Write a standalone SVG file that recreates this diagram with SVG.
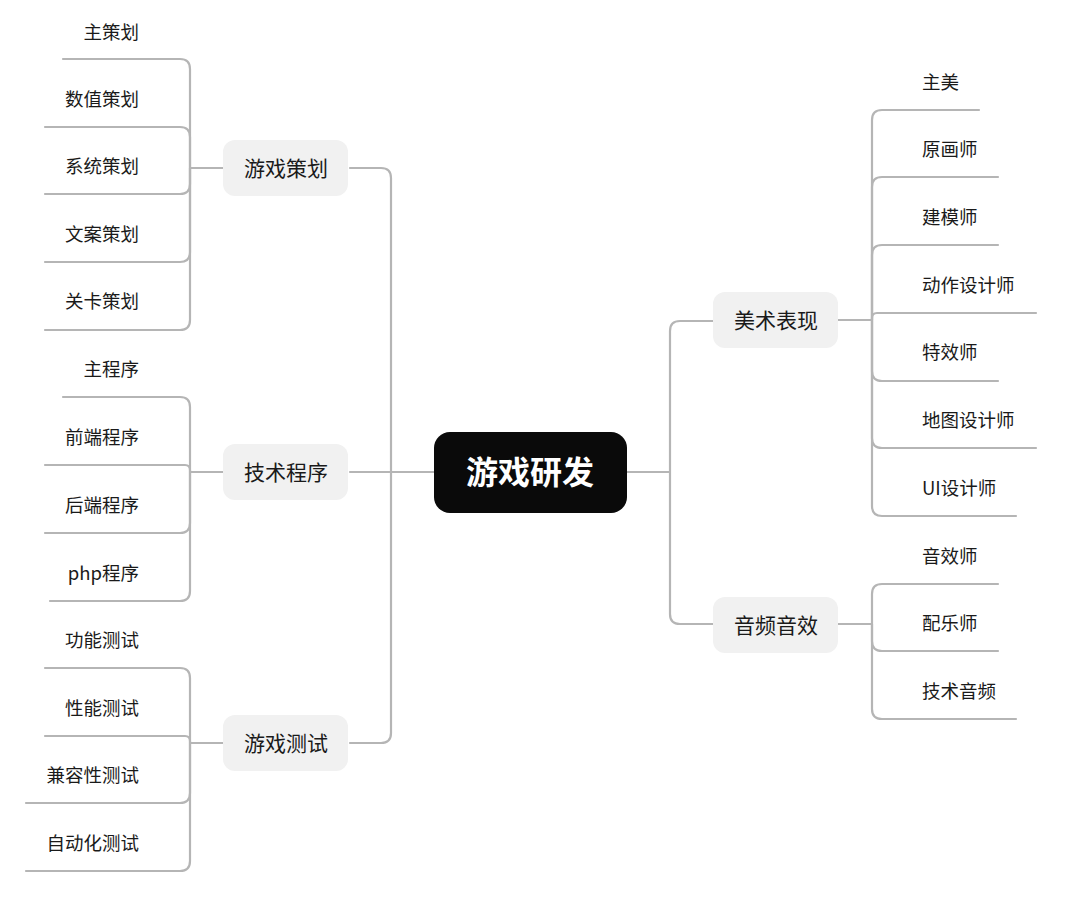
<svg xmlns="http://www.w3.org/2000/svg" width="1080" height="905" viewBox="0 0 1080 905">
<style>
.c{fill:none;stroke:#b5b5b5;stroke-width:2.2;stroke-linecap:round}
.leaf{font-family:"Noto Sans CJK SC","Noto Sans",sans-serif;font-size:18.5px;fill:#1a1a1a}
.l{text-anchor:end}
.r{text-anchor:start}
.mid rect{fill:#f1f1f1}
.mid text{font-family:"Noto Sans CJK SC","Noto Sans",sans-serif;font-size:21px;fill:#1a1a1a;text-anchor:middle}
.root text{font-family:"Noto Sans CJK SC","Noto Sans",sans-serif;font-size:32px;font-weight:bold;fill:#ffffff;text-anchor:middle}
</style>
<rect width="1080" height="905" fill="#ffffff"/>
<g id="connectors">
<path class="c" d="M434 472H350"/>
<path class="c" d="M350 168H381Q391 168 391 178V733Q391 743 381 743H350"/>
<path class="c" d="M627 472H670"/>
<path class="c" d="M713 321H680Q670 321 670 331V614Q670 624 680 624H713"/>
<path class="c" d="M223 168H190"/>
<path class="c" d="M190 168V69Q190 59 180 59H63"/>
<path class="c" d="M190 168V137Q190 127 180 127H45"/>
<path class="c" d="M190 168V184Q190 194 180 194H45"/>
<path class="c" d="M190 168V252Q190 262 180 262H45"/>
<path class="c" d="M190 168V320Q190 330 180 330H45"/>
<path class="c" d="M223 472H190"/>
<path class="c" d="M190 472V407Q190 397 180 397H63"/>
<path class="c" d="M190 472V470Q190 465 185 465H45"/>
<path class="c" d="M190 472V523Q190 533 180 533H45"/>
<path class="c" d="M190 472V591Q190 601 180 601H50"/>
<path class="c" d="M223 743H190"/>
<path class="c" d="M190 743V678Q190 668 180 668H45"/>
<path class="c" d="M190 743V741Q190 736 185 736H45"/>
<path class="c" d="M190 743V793Q190 803 180 803H26"/>
<path class="c" d="M190 743V861Q190 871 180 871H26"/>
<path class="c" d="M838 320H872"/>
<path class="c" d="M872 320V120Q872 110 882 110H979"/>
<path class="c" d="M872 320V187Q872 177 882 177H998"/>
<path class="c" d="M872 320V255Q872 245 882 245H998"/>
<path class="c" d="M872 320V318Q872 313 877 313H1036"/>
<path class="c" d="M872 320V371Q872 381 882 381H998"/>
<path class="c" d="M872 320V438Q872 448 882 448H1036"/>
<path class="c" d="M872 320V506Q872 516 882 516H1016"/>
<path class="c" d="M838 624H872"/>
<path class="c" d="M872 624V594Q872 584 882 584H998"/>
<path class="c" d="M872 624V641Q872 651 882 651H998"/>
<path class="c" d="M872 624V709Q872 719 882 719H1016"/>
</g>
<g id="root" class="root">
<rect x="434" y="432" width="193" height="81" rx="16" fill="#0a0a0a"/>
<text x="530" y="484">游戏研发</text>
</g>
<g id="n-cehua" class="mid"><rect x="223" y="140" width="125" height="56" rx="12"/><text x="286" y="175.5">游戏策划</text></g>
<g id="n-chengxu" class="mid"><rect x="223" y="444" width="125" height="56" rx="12"/><text x="286" y="479.5">技术程序</text></g>
<g id="n-ceshi" class="mid"><rect x="223" y="715" width="125" height="56" rx="12"/><text x="286" y="750.5">游戏测试</text></g>
<g id="n-meishu" class="mid"><rect x="713" y="292" width="125" height="56" rx="12"/><text x="776" y="327.5">美术表现</text></g>
<g id="n-yinpin" class="mid"><rect x="713" y="597" width="125" height="56" rx="12"/><text x="776" y="632.5">音频音效</text></g>
<g id="leaf-zhucehua"><text class="leaf l" x="139" y="39">主策划</text></g>
<g id="leaf-shuzhi"><text class="leaf l" x="139" y="106">数值策划</text></g>
<g id="leaf-xitong"><text class="leaf l" x="139" y="173">系统策划</text></g>
<g id="leaf-wenan"><text class="leaf l" x="139" y="241">文案策划</text></g>
<g id="leaf-guanka"><text class="leaf l" x="139" y="308">关卡策划</text></g>
<g id="leaf-zhuchengxu"><text class="leaf l" x="139" y="376">主程序</text></g>
<g id="leaf-qianduan"><text class="leaf l" x="139" y="444">前端程序</text></g>
<g id="leaf-houduan"><text class="leaf l" x="139" y="512">后端程序</text></g>
<g id="leaf-php"><text class="leaf l" x="139" y="580">php程序</text></g>
<g id="leaf-gongneng"><text class="leaf l" x="139" y="647">功能测试</text></g>
<g id="leaf-xingneng"><text class="leaf l" x="139" y="715">性能测试</text></g>
<g id="leaf-jianrong"><text class="leaf l" x="139" y="782">兼容性测试</text></g>
<g id="leaf-zidonghua"><text class="leaf l" x="139" y="850">自动化测试</text></g>
<g id="leaf-zhumei"><text class="leaf r" x="922" y="89">主美</text></g>
<g id="leaf-yuanhua"><text class="leaf r" x="922" y="156">原画师</text></g>
<g id="leaf-jianmo"><text class="leaf r" x="922" y="224">建模师</text></g>
<g id="leaf-dongzuo"><text class="leaf r" x="922" y="292">动作设计师</text></g>
<g id="leaf-texiao"><text class="leaf r" x="922" y="359">特效师</text></g>
<g id="leaf-ditu"><text class="leaf r" x="922" y="427">地图设计师</text></g>
<g id="leaf-ui"><text class="leaf r" x="922" y="495">UI设计师</text></g>
<g id="leaf-yinxiao"><text class="leaf r" x="922" y="563">音效师</text></g>
<g id="leaf-peiyue"><text class="leaf r" x="922" y="630">配乐师</text></g>
<g id="leaf-jishuyinpin"><text class="leaf r" x="922" y="698">技术音频</text></g>
</svg>
